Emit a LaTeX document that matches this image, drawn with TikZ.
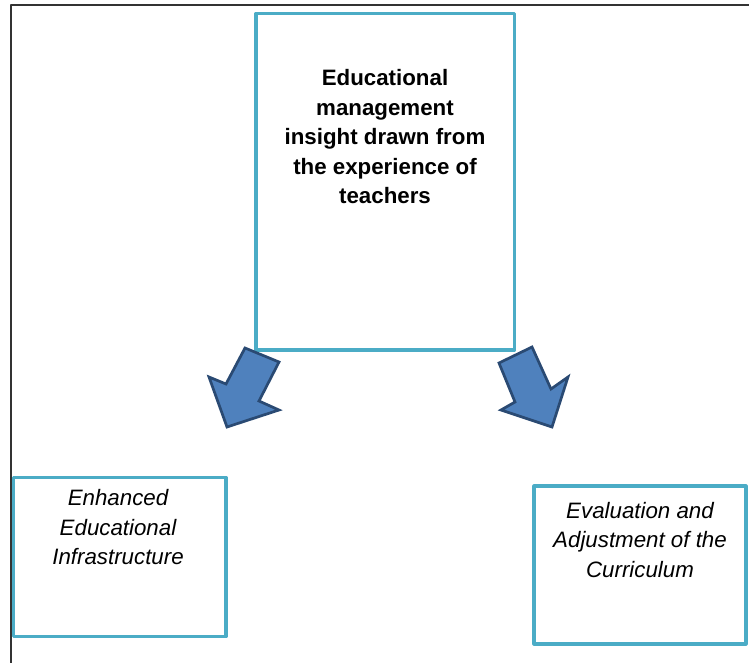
\documentclass[tikz,border=0pt]{standalone}
\usepackage{fontspec}
\setmainfont{Liberation Sans}
\usetikzlibrary{positioning}
\definecolor{boxline}{HTML}{4BACC6}
\definecolor{arrfill}{HTML}{4F81BD}
\definecolor{arrline}{HTML}{2A4A73}
\begin{document}
\begin{tikzpicture}[x=1pt,y=-1pt, line join=round,
	box/.style={draw=boxline, line width=3.2pt, inner sep=0pt},
	txt/.style={align=center, inner sep=0pt, font=\fontsize{22.3}{29.5}\selectfont},
	blockarrow/.style={fill=arrfill, draw=arrline, line width=2.7pt, line join=miter}]
	\useasboundingbox (0,0) rectangle (749,663);
	% frame
	\draw[gray!40!black, line width=1.6pt] (10.7,663)--(10.7,5.3)--(749,5.3);
	% boxes
	\node[box, minimum width=258.5pt, minimum height=336.5pt] (insight) at (385.25,181.75) {};
	\node[box, minimum width=212.5pt, minimum height=159pt] (infra) at (119.75,557) {};
	\node[box, minimum width=212pt, minimum height=158pt] (curric) at (640,565) {};
	% texts
	\node[txt, font=\fontsize{22.3}{29.5}\selectfont\bfseries] (insighttxt) at (385,137)
		{Educational\\management\\insight drawn from\\the experience of\\teachers};
	\node[txt, font=\fontsize{22.3}{29.5}\selectfont\itshape] (infratxt) at (118,527.5)
		{Enhanced\\Educational\\Infrastructure};
	\node[txt, font=\fontsize{22.3}{29.5}\selectfont\itshape] (currictxt) at (640,540)
		{Evaluation and\\Adjustment of the\\Curriculum};
	% block arrows
	\draw[blockarrow] (245,348)--(279,362)--(259,401)--(279,410)--(227,427)--(209,377)--(226,384)--cycle;
	\draw[blockarrow] (532,347)--(499,363)--(515,402)--(501,410)--(552,427)--(568,377)--(551,389)--cycle;
\end{tikzpicture}
\end{document}
